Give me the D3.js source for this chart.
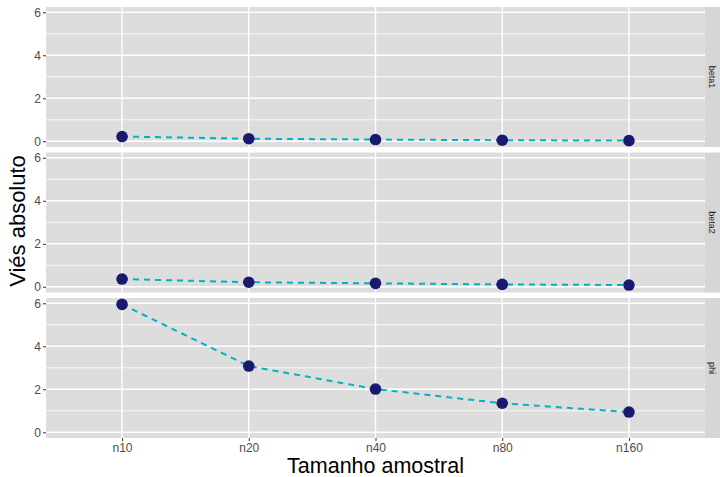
<!DOCTYPE html>
<html>
<head>
<meta charset="utf-8">
<script src="https://cdn.jsdelivr.net/npm/d3@7"></script>
<style>
  body { margin: 0; background: #fff; }
  svg { display: block; font-family: "Liberation Sans", Arial, sans-serif; }
</style>
</head>
<body>
<div id="chart"></div>
<script>
// data
var sizes = ["n10", "n20", "n40", "n80", "n160"]
var params = ["beta1", "beta2", "phi"]
var beta1 = [0.22, 0.12, 0.08, 0.05, 0.03]
var beta2 = [0.36, 0.21, 0.16, 0.11, 0.08]
var phi = [5.95, 3.08, 2.01, 1.35, 0.94]
var yTicks = [0, 2, 4, 6]
var yMinor = [1, 3, 5]

var series = { beta1: beta1, beta2: beta2, phi: phi }

var W = 720, H = 477
var left = 46, right = 705, stripW = 15
var panelTops = [7, 152.5, 298], panelH = 140

var svg = d3.select("#chart").append("svg")
  .attr("width", W)
  .attr("height", H)

var x = d3.scalePoint().domain(sizes).range([left, right]).padding(0.6)

// shared y scale with ggplot-style 5% expansion
var all = beta1.concat(beta2, phi)
var lo = d3.min(all), hi = d3.max(all), pad = (hi - lo) * 0.05

params.forEach(function(p, i) {
  var top = panelTops[i]
  var y = d3.scaleLinear().domain([lo - pad, hi + pad]).range([top + panelH, top])
  var g = svg.append("g").attr("class", "panel_" + p)

  g.append("rect")
    .attr("x", left).attr("y", top)
    .attr("width", right - left).attr("height", panelH)
    .style("fill", "#dddddd")

  g.selectAll(".minor").data(yMinor).enter().append("line")
    .attr("x1", left).attr("x2", right)
    .attr("y1", function(d) { return y(d) }).attr("y2", function(d) { return y(d) })
    .style("stroke", "#fff").style("stroke-width", 0.8)

  g.selectAll(".major").data(yTicks).enter().append("line")
    .attr("x1", left).attr("x2", right)
    .attr("y1", function(d) { return y(d) }).attr("y2", function(d) { return y(d) })
    .style("stroke", "#fff").style("stroke-width", 1.4)

  g.selectAll(".vgrid").data(sizes).enter().append("line")
    .attr("x1", function(d) { return x(d) }).attr("x2", function(d) { return x(d) })
    .attr("y1", top).attr("y2", top + panelH)
    .style("stroke", "#fff").style("stroke-width", 1.4)

  // y axis
  var ax = g.append("g").attr("transform", "translate(" + left + ",0)")
    .call(d3.axisLeft(y).tickValues(yTicks).tickFormat(d3.format("d")).tickSize(3).tickPadding(2))
  ax.select(".domain").remove()
  ax.selectAll("line").style("stroke", "#333")
  ax.selectAll("text").style("fill", "#4d4d4d").style("font-size", "12px")

  // strip
  g.append("rect")
    .attr("x", right).attr("y", top)
    .attr("width", stripW).attr("height", panelH)
    .style("fill", "#d6d6d6")
  g.append("text")
    .attr("transform", "translate(" + (right + stripW / 2) + "," + (top + panelH / 2) + ") rotate(90)")
    .attr("text-anchor", "middle").attr("dy", "0.35em")
    .style("font-size", "9px").style("fill", "#1a1a1a")
    .text(p)

  var vals = series[p]
  var line = d3.line()
    .x(function(d, j) { return x(sizes[j]) })
    .y(function(d) { return y(d) })

  g.append("path")
    .datum(vals)
    .attr("d", line)
    .style("fill", "none")
    .style("stroke", "#00b2c2")
    .style("stroke-width", 2)
    .style("stroke-dasharray", "6,5")

  g.selectAll("circle").data(vals).enter().append("circle")
    .attr("cx", function(d, j) { return x(sizes[j]) })
    .attr("cy", function(d) { return y(d) })
    .attr("r", 5.8)
    .style("fill", "#191970")
})

// x axis under the last panel
var bottom = panelTops[2] + panelH
var xa = svg.append("g").attr("transform", "translate(0," + bottom + ")")
  .call(d3.axisBottom(x).tickSize(3).tickPadding(2))
xa.select(".domain").remove()
xa.selectAll("line").style("stroke", "#333")
xa.selectAll("text").style("fill", "#4d4d4d").style("font-size", "12px")

svg.append("text")
  .attr("x", (left + right) / 2).attr("y", 472.5)
  .attr("text-anchor", "middle")
  .style("font-size", "21.5px").style("fill", "#000")
  .text("Tamanho amostral")

svg.append("text")
  .attr("transform", "translate(24.5,221) rotate(-90)")
  .attr("text-anchor", "middle")
  .style("font-size", "22px").style("fill", "#000")
  .text("Viés absoluto")
</script>
</body>
</html>
